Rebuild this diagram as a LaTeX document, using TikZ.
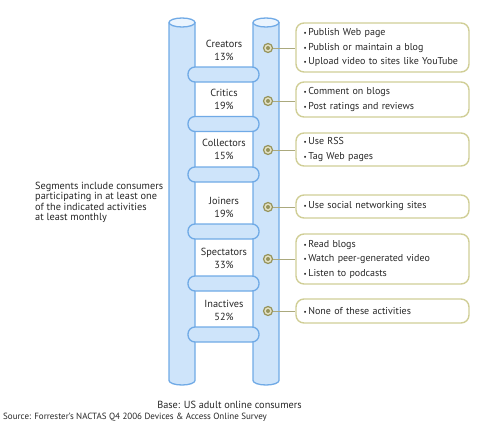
\documentclass[tikz,border=0pt]{standalone}
\usepackage{fontspec}
\setmainfont{PT Sans}
\usepackage{tikz}
\definecolor{polefill}{RGB}{206,228,250}
\definecolor{poleline}{RGB}{112,170,230}
\definecolor{poletop}{RGB}{234,244,254}
\definecolor{boxline}{RGB}{208,206,150}
\definecolor{dotline}{RGB}{150,148,92}
\definecolor{dotfill}{RGB}{226,224,196}
\newcommand{\itm}{{\scriptsize\textbullet}\,}

\begin{document}
\begin{tikzpicture}[x=1pt, y=-1pt, every node/.style={font=\fontsize{10.3}{13}\selectfont, text=black!85},
	pole/.style={fill=polefill, draw=poleline, line width=1.3pt},
	rung/.style={draw=poleline, fill=polefill, line width=1.3pt, rounded corners=7pt, minimum width=71pt, minimum height=15pt, inner sep=0pt},
	seg/.style={align=center, inner sep=0pt},
	dot/.style={circle, draw=dotline, fill=dotfill, line width=1.2pt, minimum size=9pt, inner sep=0pt, path picture={\fill[dotline] (path picture bounding box.center) circle (2pt);}},
	act/.style={draw=boxline, line width=1.4pt, rounded corners=8pt, text width=158pt, inner xsep=7.5pt, inner ysep=0pt, align=left, font=\fontsize{10}{14.5}\selectfont}]
	\clip (0,0) rectangle (500,423);
	% ladder poles
	\foreach \cx in {182,266} {
		\filldraw[pole] (\cx-13,22.5) -- (\cx-13,380.5) arc (180:360:13pt and 4.5pt) -- (\cx+13,22.5);
		\filldraw[pole, fill=poletop] (\cx,22.5) ellipse [x radius=13pt, y radius=4.5pt];
	}
	% rungs
	\foreach \ry [count=\i] in {74.5,124,174.5,231.5,283.5,334.5}
		\node[rung] (r\i) at (223.5,\ry) {};
	% segments
	\node[seg] (creators) at (224,50) {Creators\\13\%};
	\node[seg] (critics) at (224,99) {Critics\\19\%};
	\node[seg] (collectors) at (224,149) {Collectors\\15\%};
	\node[seg] (joiners) at (224,207) {Joiners\\19\%};
	\node[seg] (spectators) at (224,258) {Spectators\\33\%};
	\node[seg] (inactives) at (224,310) {Inactives\\52\%};
	% markers on the right pole
	\node[dot] (d1) at (268,48) {};
	\node[dot] (d2) at (268,101) {};
	\node[dot] (d3) at (268,150) {};
	\node[dot] (d4) at (268,207) {};
	\node[dot] (d5) at (268,259) {};
	\node[dot] (d6) at (268,311) {};
	% activity boxes
	\node[act, minimum height=49pt] (a1) at (382.5,47.5) {\itm Publish Web page\\\itm Publish or maintain a blog\\\itm Upload video to sites like YouTube};
	\node[act, minimum height=35pt] (a2) at (382.5,99.5) {\itm Comment on blogs\\\itm Post ratings and reviews};
	\node[act, minimum height=33pt] (a3) at (382.5,149.5) {\itm Use RSS\\\itm Tag Web pages};
	\node[act, minimum height=23pt] (a4) at (382.5,206.5) {\itm Use social networking sites};
	\node[act, minimum height=50pt] (a5) at (382.5,259) {\itm Read blogs\\\itm Watch peer-generated video\\\itm Listen to podcasts};
	\node[act, minimum height=24pt] (a6) at (382.5,311) {\itm None of these activities};
	\foreach \i in {1,...,6}
		\draw[dotline!80, line width=1pt] (d\i) -- (d\i -| a\i.west);
	% notes
	\node[anchor=north west, align=left, inner sep=0pt, font=\fontsize{10.3}{10.6}\selectfont] (note) at (35,181.5) {Segments include consumers\\participating in at least one\\of the indicated activities\\at least monthly};
	\node[inner sep=0pt] (base) at (229.5,405) {Base: US adult online consumers};
	\node[anchor=south west, inner sep=0pt, font=\fontsize{9}{10}\selectfont] (source) at (3,421.5) {Source: Forrester's NACTAS Q4 2006 Devices \& Access Online Survey};
\end{tikzpicture}
\end{document}
